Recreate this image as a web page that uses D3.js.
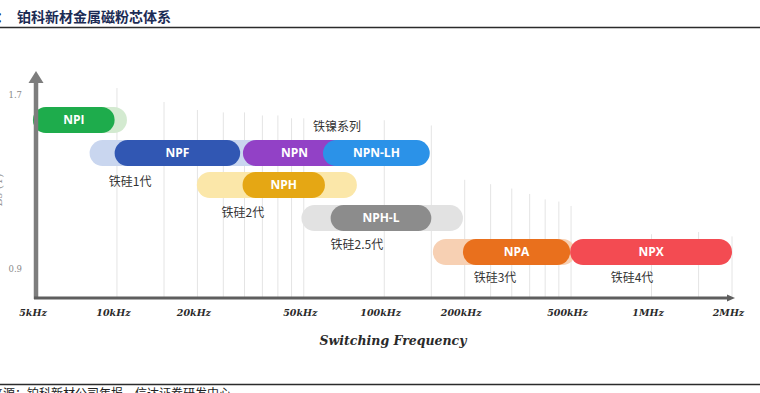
<!DOCTYPE html>
<html>
<head>
<meta charset="utf-8">
<script src="https://cdn.jsdelivr.net/npm/d3@7"></script>
<style>
  html, body { margin: 0; padding: 0; background: #fff; }
  svg { display: block; }
</style>
</head>
<body>
<svg id="chart" width="760" height="393"></svg>
<script>
// Product families: saturation flux density (Bs, T) vs switching frequency (Hz)
const products   = ["NPI", "NPF", "NPN", "NPN-LH", "NPH", "NPH-L", "NPA", "NPX"];
const bsLevel    = [1.585, 1.433, 1.433, 1.433, 1.286, 1.134, 0.978, 0.978];
const coreLow    = [4850, 9800, 29600, 59000, 29500, 63000, 197000, 496000];
const coreHigh   = [9800, 28900, 72000, 148000, 60000, 150000, 496000, 2000000];
// Extended (pale) frequency range; null where no extended range is drawn
const extLow     = [4850, 7900, null, null, 19900, 49000, 152000, null];
const extHigh    = [10900, 40000, null, null, 79000, 197000, 520000, null];
const coreColors = ["#1eac4c", "#3157b3", "#9241c6", "#2b92e8", "#e5a714", "#8c8c8c", "#e9701d", "#f34b52"];
const extColors  = ["#d3ead0", "#c9d6ef", null, null, "#fbe7a9", "#e2e2e2", "#f7d0b3", null];

// Series group captions
const groupNames = ["铁镍系列", "铁硅1代", "铁硅2代", "铁硅2.5代", "铁硅3代", "铁硅4代"];
const groupFreq  = [66600, 11200, 29600, 79000, 259600, 845000];
const groupBs    = [1.553, 1.300, 1.157, 1.010, 0.859, 0.859];

// Axis ticks
const freqTicks  = [5000, 10000, 20000, 50000, 100000, 200000, 500000, 1000000, 2000000];
const freqLabels = ["5kHz", "10kHz", "20kHz", "50kHz", "100kHz", "200kHz", "500kHz", "1MHz", "2MHz"];
const bsTicks    = [0.9, 1.7];

// Light vertical guides: frequency and the Bs level each one reaches up to
const gridFreq = [10000, 15000, 20000, 25000, 30000, 35000, 40000, 45000, 50000,
                  100000, 150000, 200000, 250000, 300000, 350000, 400000, 450000, 500000,
                  1000000, 1500000, 2000000];
const gridTop  = [1.732, 1.668, 1.631, 1.62, 1.62, 1.606, 1.606, 1.593, 1.593,
                  1.584, 1.56, 1.31, 1.29, 1.27, 1.245, 1.22, 1.21, 1.19,
                  1.06, 1.07, 1.05];

const svg = d3.select("#chart");
const W = 760, H = 393;
const axisY = 298, axisX = 36;

const x = d3.scaleLog().domain([5000, 2000000]).range([36.5, 732]);
const y = d3.scaleLinear().domain([0.9, 1.7]).range([269, 95]);

const cjk = "'Noto Sans CJK SC', 'Noto Sans', sans-serif";
const serif = "'DejaVu Serif', 'Liberation Serif', serif";

// Header
svg.append("text").attr("x", -4).attr("y", 22)
  .attr("font-family", cjk).attr("font-weight", 700).attr("font-size", 14)
  .attr("fill", "#1c2c55").text("：");
svg.append("text").attr("x", 17).attr("y", 22)
  .attr("font-family", cjk).attr("font-weight", 700).attr("font-size", 14)
  .attr("fill", "#1c2c55").text("铂科新材金属磁粉芯体系");
svg.append("line").attr("x1", 0).attr("x2", W).attr("y1", 27.5).attr("y2", 27.5)
  .attr("stroke", "#2b2b2b").attr("stroke-width", 1.5);

// Footer
svg.append("line").attr("x1", 0).attr("x2", W).attr("y1", 384.5).attr("y2", 384.5)
  .attr("stroke", "#2b2b2b").attr("stroke-width", 1.5);
svg.append("text").attr("x", -33).attr("y", 398)
  .attr("font-family", cjk).attr("font-size", 12).attr("fill", "#222")
  .text("资料来源：铂科新材公司年报，信达证券研发中心");

// Grid guides
svg.append("g").selectAll("line").data(gridFreq).join("line")
  .attr("x1", d => x(d)).attr("x2", d => x(d))
  .attr("y1", (d, i) => y(gridTop[i])).attr("y2", axisY)
  .attr("stroke", "#e4e4e4").attr("stroke-width", 1);

// Bars
const barH = 26;
const rows = products.map((p, i) => ({
  name: p, bs: bsLevel[i], lo: coreLow[i], hi: coreHigh[i],
  elo: extLow[i], ehi: extHigh[i], c: coreColors[i], ec: extColors[i]
}));

svg.append("g").selectAll("rect").data(rows.filter(d => d.elo !== null)).join("rect")
  .attr("x", d => x(d.elo)).attr("width", d => x(d.ehi) - x(d.elo))
  .attr("y", d => y(d.bs) - barH / 2).attr("height", barH)
  .attr("rx", barH / 2).attr("fill", d => d.ec);

svg.append("g").selectAll("rect").data(rows).join("rect")
  .attr("x", d => x(d.lo)).attr("width", d => x(d.hi) - x(d.lo))
  .attr("y", d => y(d.bs) - barH / 2).attr("height", barH)
  .attr("rx", barH / 2).attr("fill", d => d.c);

svg.append("g").selectAll("text").data(rows).join("text")
  .attr("x", d => (x(d.lo) + x(d.hi)) / 2).attr("y", d => y(d.bs))
  .attr("dy", "0.36em").attr("text-anchor", "middle")
  .attr("font-family", "'Open Sans', 'Noto Sans', sans-serif").attr("font-weight", 700)
  .attr("font-size", 12).attr("fill", "#fff").text(d => d.name);

// Group captions
svg.append("g").selectAll("text").data(groupNames).join("text")
  .attr("x", (d, i) => x(groupFreq[i])).attr("y", (d, i) => y(groupBs[i]))
  .attr("dy", "0.36em").attr("text-anchor", "middle")
  .attr("font-family", cjk).attr("font-size", 12).attr("fill", "#333")
  .text(d => d);

// X axis labels
const xAxis = d3.axisBottom(x).tickValues(freqTicks)
  .tickFormat((d, i) => freqLabels[i]).tickSize(0).tickPadding(0);
const gx = svg.append("g").attr("transform", `translate(-4,${axisY + 11})`).call(xAxis);
gx.select(".domain").remove();
gx.selectAll("text").attr("font-family", serif).attr("font-style", "italic")
  .attr("font-weight", 700).attr("font-size", 9.5).attr("fill", "#2a2a2a");

// Y axis labels
const yAxis = d3.axisLeft(y).tickValues(bsTicks).tickFormat(d3.format(".1f"))
  .tickSize(0).tickPadding(0);
const gy = svg.append("g").attr("transform", "translate(22,0)").call(yAxis);
gy.select(".domain").remove();
gy.selectAll("text").attr("font-family", serif).attr("font-size", 8.5).attr("fill", "#8a8a8a");

// Y axis title (clipped at the left edge)
svg.append("text").attr("transform", "translate(2,190) rotate(-90)")
  .attr("text-anchor", "middle").attr("font-family", serif).attr("font-size", 11)
  .attr("fill", "#9a9a9a").text("Bs (T)");

// Axis lines with arrowheads
svg.append("line").attr("x1", axisX).attr("x2", axisX).attr("y1", axisY + 1).attr("y2", 80)
  .attr("stroke", "#7d7d7d").attr("stroke-width", 4.5);
svg.append("path").attr("d", `M${axisX - 7.5},83 L${axisX},71 L${axisX + 7.5},83 Z`)
  .attr("fill", "#7d7d7d");
svg.append("line").attr("x1", axisX - 2).attr("x2", 730).attr("y1", axisY).attr("y2", axisY)
  .attr("stroke", "#5e5e5e").attr("stroke-width", 3);
svg.append("path").attr("d", `M727,${axisY - 3.5} L735,${axisY} L727,${axisY + 3.5} Z`)
  .attr("fill", "#5e5e5e");

// X axis title
svg.append("text").attr("x", 393).attr("y", 345).attr("text-anchor", "middle")
  .attr("font-family", serif).attr("font-style", "italic").attr("font-weight", 700)
  .attr("font-size", 12.5).attr("fill", "#2a2a2a").text("Switching Frequency");
</script>
</body>
</html>
